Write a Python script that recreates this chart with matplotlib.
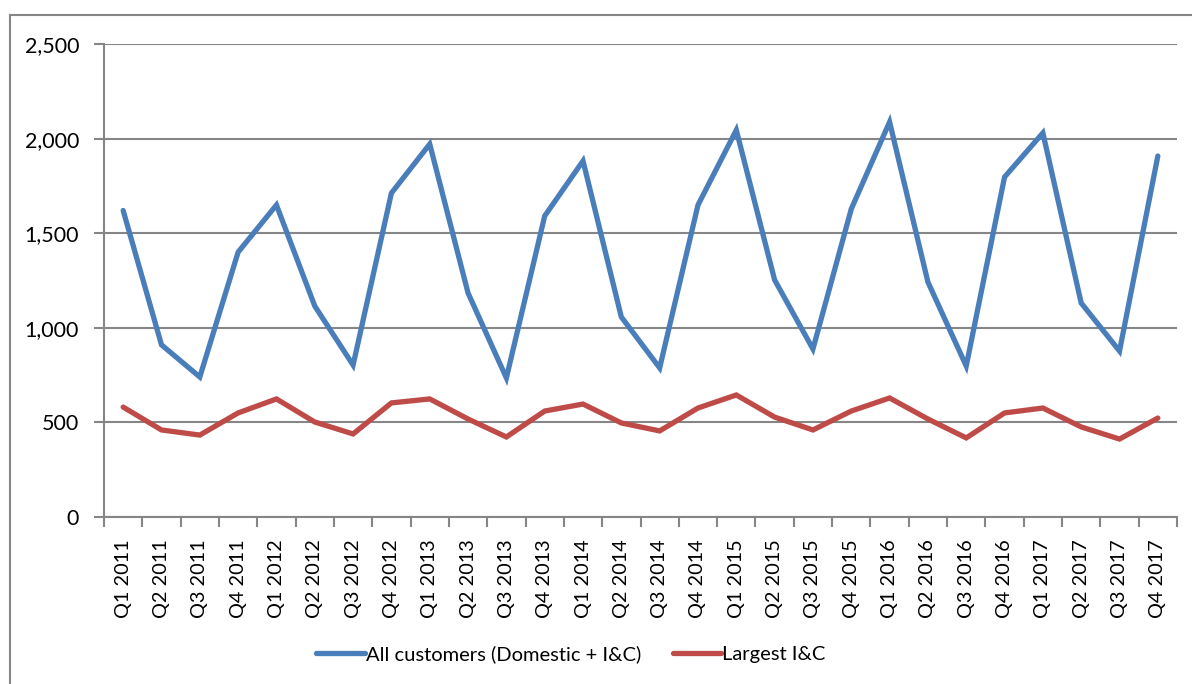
import matplotlib
matplotlib.use("Agg")
import matplotlib.pyplot as plt
from matplotlib.lines import Line2D
from matplotlib.ticker import FuncFormatter
import numpy as np

plt.rcParams["font.family"] = ["Lato", "DejaVu Sans"]

quarters = [f"Q{q} {y}" for y in range(2011, 2018) for q in range(1, 5)]
all_customers = [1620, 910, 740, 1400, 1649, 1115, 803, 1712, 1971, 1184, 735, 1591,
                 1882, 1057, 788, 1649, 2045, 1253, 888, 1628, 2088, 1242, 798, 1797,
                 2030, 1131, 877, 1908]
largest_ic = [581, 460, 433, 550, 624, 502, 439, 603, 624, 518, 423, 560,
              597, 497, 455, 576, 645, 528, 460, 560, 629, 518, 418, 550,
              576, 476, 412, 523]

W, H = 1192, 684
fig = plt.figure(figsize=(W / 100, H / 100), dpi=100)
ax = fig.add_axes([104 / W, 1 - 517 / H, (1177 - 104) / W, (517 - 44) / H])

x = np.arange(len(quarters))
ax.plot(x, all_customers, color="#4A7EBB", linewidth=3.8, solid_joinstyle="miter",
        solid_capstyle="round", label="All customers (Domestic + I&C)")
ax.plot(x, largest_ic, color="#BE4B48", linewidth=3.8, solid_joinstyle="miter",
        solid_capstyle="round", label="Largest I&C")

ax.set_xlim(-0.5, len(quarters) - 0.5)
ax.set_ylim(0, 2500)
ax.set_yticks(range(0, 2501, 500))
ax.yaxis.set_major_formatter(FuncFormatter(lambda v, p: f"{int(v):,}"))
ax.grid(axis="y", color="#868686", linewidth=1.5)
ax.set_axisbelow(True)

ax.set_xticks(x)
ax.set_xticklabels(quarters, rotation=90)
ax.set_xticks(np.arange(-0.5, len(quarters)), minor=True)
ax.tick_params(axis="x", which="major", length=0, pad=16, labelsize=14.3)
ax.tick_params(axis="x", which="minor", length=7, width=1.5, color="#868686")
ax.tick_params(axis="y", length=7, width=1.5, color="#868686", labelsize=15.5, pad=11)

for s in ["top", "right"]:
    ax.spines[s].set_visible(False)
for s in ["left", "bottom"]:
    ax.spines[s].set_color("#868686")
    ax.spines[s].set_linewidth(1.5)

# outer chart frame
fig.add_artist(Line2D([10 / W, 1], [1 - 15 / H, 1 - 15 / H], color="#868686", linewidth=1.5))
fig.add_artist(Line2D([10 / W, 10 / W], [0, 1 - 15 / H], color="#868686", linewidth=1.5))

fig.legend(loc="center", bbox_to_anchor=(571 / W, 1 - 654 / H), ncol=2, frameon=False,
           fontsize=14.5, handlelength=2.4, handletextpad=0.05, columnspacing=1.6)

fig.savefig("out.png", dpi=100)
